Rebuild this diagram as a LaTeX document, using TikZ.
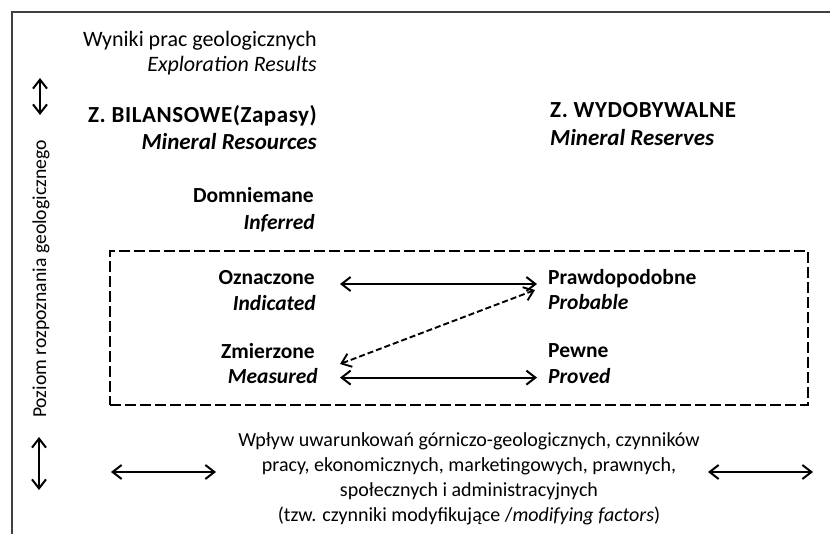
\documentclass[tikz,border=0pt]{standalone}
\usepackage{fontspec}
\setmainfont{Carlito}
\usetikzlibrary{arrows.meta}
\begin{document}
\begin{tikzpicture}[x=1pt,y=-1pt,
  txt/.style={font=\fontsize{22}{25}\selectfont, inner sep=0pt},
  vtx/.style={font=\fontsize{19.7}{25}\selectfont, inner sep=0pt},
  hbl/.style={font=\fontsize{23}{25}\selectfont\bfseries\addfontfeatures{LetterSpace=2.5}, inner sep=0pt},
  hbi/.style={font=\fontsize{23}{25}\selectfont\bfseries\itshape, inner sep=0pt},
  bld/.style={font=\fontsize{21.5}{25}\selectfont\bfseries, inner sep=0pt},
  bit/.style={font=\fontsize{21.5}{25}\selectfont\bfseries\itshape, inner sep=0pt},
  bot/.style={font=\fontsize{20}{25}\selectfont, inner sep=0pt},
  dbl/.style={{Straight Barb[length=9pt,width=14pt]}-{Straight Barb[length=9pt,width=14pt]}, line width=2pt},
  dshbl/.style={{Straight Barb[length=9pt,width=14pt]}-{Straight Barb[length=9pt,width=14pt]}, line width=1.9pt, dash pattern=on 6pt off 3pt},
  frame/.style={line width=1.2pt, black!75},
  dbox/.style={draw, line width=2.2pt, dash pattern=on 11pt off 4pt, inner sep=0pt},
]
\useasboundingbox (0,0) rectangle (830,534);
\draw[frame] (12,534) -- (12,12) -- (830,12);

% left column
\node[txt, anchor=base east] (wy) at (317,47) {Wyniki prac geologicznych};
\node[txt, anchor=base east] (ex) at (317,72) {\itshape Exploration Results};
\node[hbl, anchor=base east] (zb) at (317,123) {Z. BILANSOWE(Zapasy)};
\node[hbi, anchor=base east] (mr) at (317,150) {Mineral Resources};
\node[bld, anchor=base east] (dm) at (314,203) {Domniemane};
\node[bit, anchor=base east] (inf) at (315,230) {Inferred};
\node[bld, anchor=base east] (oz) at (315,285) {Oznaczone};
\node[bit, anchor=base east] (ind) at (316,311) {Indicated};
\node[bld, anchor=base east] (zm) at (315,359) {Zmierzone};
\node[bit, anchor=base east] (me) at (318,384) {Measured};

% right column
\node[hbl, anchor=base west] (zw) at (550,118) {Z. WYDOBYWALNE};
\node[hbi, anchor=base west] (ms) at (550,146) {Mineral Reserves};
\node[bld, anchor=base west] (pr) at (548,285) {Prawdopodobne};
\node[bit, anchor=base west] (pb) at (548,310) {Probable};
\node[bld, anchor=base west] (pw) at (548,358) {Pewne};
\node[bit, anchor=base west] (pd) at (548,384) {Proved};

% dashed box
\node[dbox, minimum width=698pt, minimum height=154pt] (box) at (459,328) {};

% connectors
\draw[dbl] ([xshift=25pt,yshift=-1.4pt]oz.mid east) -- ([xshift=-11pt,yshift=-1.4pt]pr.mid west);
\draw[dbl] ([xshift=22pt,yshift=4pt]me.mid east) -- ([xshift=-11pt,yshift=4pt]pd.mid west);
\draw[dshbl] ([xshift=25pt,yshift=-7.4pt]zm.mid east) -- ([xshift=-13pt,yshift=-7.4pt]pr.mid west);

% vertical axis
\node[vtx, rotate=90] (poz) at (41,279) {Poziom rozpoznania geologicznego};
\coordinate (v1a) at (40,78);
\coordinate (v1b) at (40,115);
\coordinate (v2a) at (39,437);
\coordinate (v2b) at (39,490);
\draw[dbl] (v1a) -- (v1b);
\draw[dbl] (v2a) -- (v2b);

% bottom text
\node[bot, align=center, anchor=center] (bt) at (469,479)
 {Wpływ uwarunkowań górniczo-geologicznych, czynników\\
  pracy, ekonomicznych, marketingowych, prawnych,\\
  społecznych i administracyjnych\\
  (tzw. czynniki modyfikujące /\textit{modifying factors})};
\coordinate (h1a) at (111,472);
\coordinate (h1b) at (216,472);
\coordinate (h2a) at (708,472);
\coordinate (h2b) at (813,472);
\draw[dbl] (h1a) -- (h1b);
\draw[dbl] (h2a) -- (h2b);
\end{tikzpicture}
\end{document}
